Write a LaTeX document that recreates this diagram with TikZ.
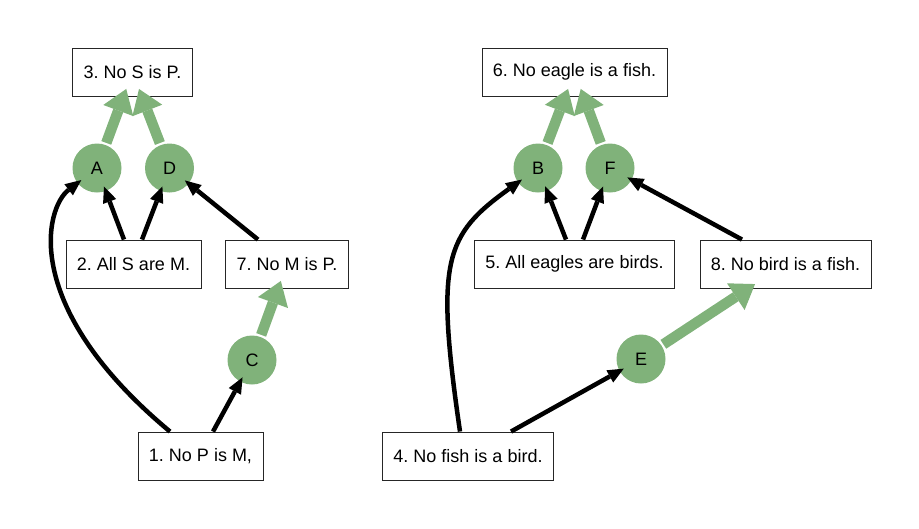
\documentclass[tikz,border=0pt]{standalone}
\usepackage{fontspec}
\setmainfont{Liberation Sans}
\usetikzlibrary{arrows.meta}
\definecolor{infgreen}{RGB}{128,178,122}
\frenchspacing

\begin{document}
\begin{tikzpicture}[->,>={Triangle[length=16pt,width=14pt,line width=0pt]}, shorten >=-7pt, line width=4.5pt, x=1pt, y=-1pt, font=\fontsize{18}{21}\selectfont]
  \tikzstyle{stmt}=[draw=black!85, line width=0.9pt, rectangle, minimum height=48pt, inner xsep=11pt, fill=white]
  \tikzstyle{inf}=[circle, fill=infgreen, minimum size=49pt, inner sep=0pt]
  \tikzstyle{give}=[infgreen, line width=10.5pt, -{Triangle[length=23pt,width=32pt,line width=0pt]}, shorten >=-8pt]

  \useasboundingbox (0,0) rectangle (919,528);

  \node[stmt] (3) at (132.5,72)  {3. No S is P.};
  \node[inf]  (A) at (97,168)    {A};
  \node[inf]  (D) at (169.5,168) {D};
  \node[stmt] (2) at (133.5,264) {2. All S are M.};
  \node[stmt] (7) at (287,264)   {7. No M is P.};
  \node[inf]  (C) at (252,360)   {C};
  \node[stmt] (1) at (200.5,456) {1. No P is M,};

  \node[stmt] (6) at (574.5,72)  {6. No eagle is a fish.};
  \node[inf]  (B) at (538,168)   {B};
  \node[inf]  (F) at (610,168)   {F};
  \node[stmt] (5) at (574.5,264) {5. All eagles are birds.};
  \node[stmt] (8) at (785.5,264) {8. No bird is a fish.};
  \node[inf]  (E) at (641,359)   {E};
  \node[stmt] (4) at (468,456)   {4. No fish is a bird.};

  \path ([xshift=-9.5pt]2.north)  edge (A)
        ([xshift=8.5pt]2.north)   edge (D)
        ([xshift=-29pt]7.north)   edge (D)
        ([xshift=12.5pt]1.north)  edge (C)
        ([xshift=-8.5pt]5.north)  edge (B)
        ([xshift=8.5pt]5.north)   edge (F)
        ([xshift=-43.5pt]8.north) edge (F)
        ([xshift=43pt]4.north)    edge (E);

  \draw ([xshift=-30.5pt]1.north) .. controls +(-150,-125) and +(-52,40) .. (A);
  \draw ([xshift=-8pt]4.north) .. controls +(-25,-172) and +(-93,67) .. (B);

  \path (A) edge[give] (3)
        (D) edge[give] (3)
        (C) edge[give] (7)
        (B) edge[give] (6)
        (F) edge[give] (6)
        (E) edge[give] (8);
\end{tikzpicture}
\end{document}
